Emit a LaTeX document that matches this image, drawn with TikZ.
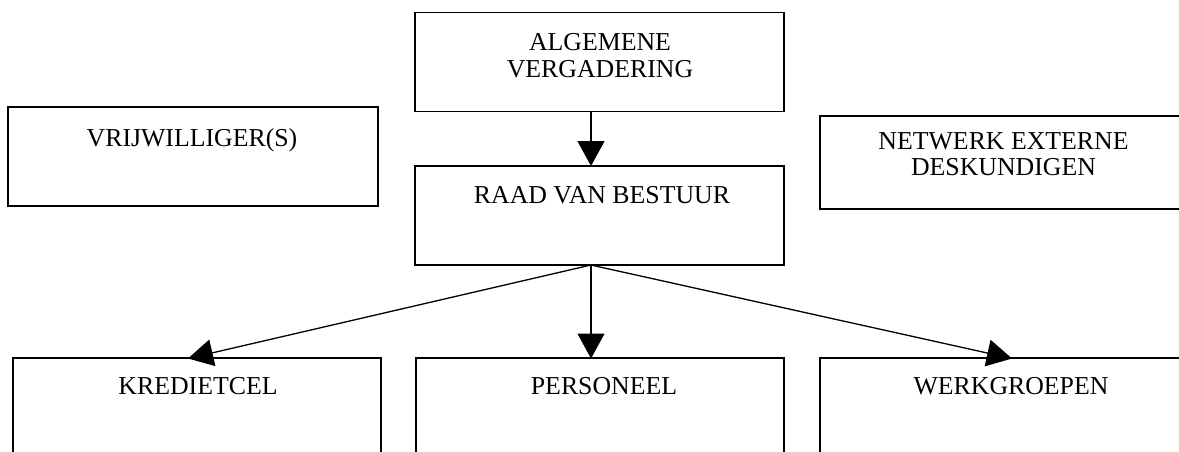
\documentclass[tikz,border=0pt]{standalone}
\usepackage{fontspec}
\setmainfont{Liberation Serif}
\usetikzlibrary{arrows.meta}
\begin{document}
\begin{tikzpicture}[x=1pt,y=-1pt,
  box/.style={draw=black, line width=1.7pt, rectangle, inner sep=0pt, minimum width=369pt, minimum height=99pt},
  lbl/.style={anchor=base, inner sep=0pt, align=center, font=\fontsize{25.8}{26.7}\selectfont},
  conn/.style={line width=1.3pt, -{Triangle[length=25pt,width=27pt]}}]
\useasboundingbox (0,0) rectangle (1179,451);
\clip (0,0) rectangle (1179,451);
% boxes
\node[box] (alg) at (599.5,62) {};
\node[box] (raad) at (599.5,215.5) {};
\node[box, minimum width=370pt] (vrij) at (193,156.5) {};
\node[box, minimum width=367pt, minimum height=93pt] (netw) at (1003.5,162.5) {};
\node[box, minimum width=368pt, minimum height=120pt] (kred) at (197,418) {};
\node[box, minimum width=368pt, minimum height=120pt] (pers) at (600,418) {};
\node[box, minimum width=382pt, minimum height=120pt] (werk) at (1011,418) {};
% texts (base = baseline of the last line)
\node[lbl] (talg) at (600,77.3) {ALGEMENE\\VERGADERING};
\node[lbl] (traad) at (602,203) {RAAD VAN BESTUUR};
\node[lbl] (tvrij) at (192,146) {VRIJWILLIGER(S)};
\node[lbl] (tnetw) at (1003.5,175.7) {NETWERK EXTERNE\\DESKUNDIGEN};
\node[lbl] (tkred) at (198,394) {KREDIETCEL};
\node[lbl] (tpers) at (604,394) {PERSONEEL};
\node[lbl] (twerk) at (1011,394) {WERKGROEPEN};
% connector ends
\coordinate (algout) at (591,111.5);
\coordinate (raadin) at (591,166);
\coordinate (raadout) at (591,265);
\coordinate (kredin) at (188,358.5);
\coordinate (persin) at (591,358.5);
\coordinate (werkin) at (1012,358.5);
\draw[conn] (algout) -- (raadin);
\draw[conn] (raadout) -- (kredin);
\draw[conn] (raadout) -- (persin);
\draw[conn] (raadout) -- (werkin);
\end{tikzpicture}
\end{document}
